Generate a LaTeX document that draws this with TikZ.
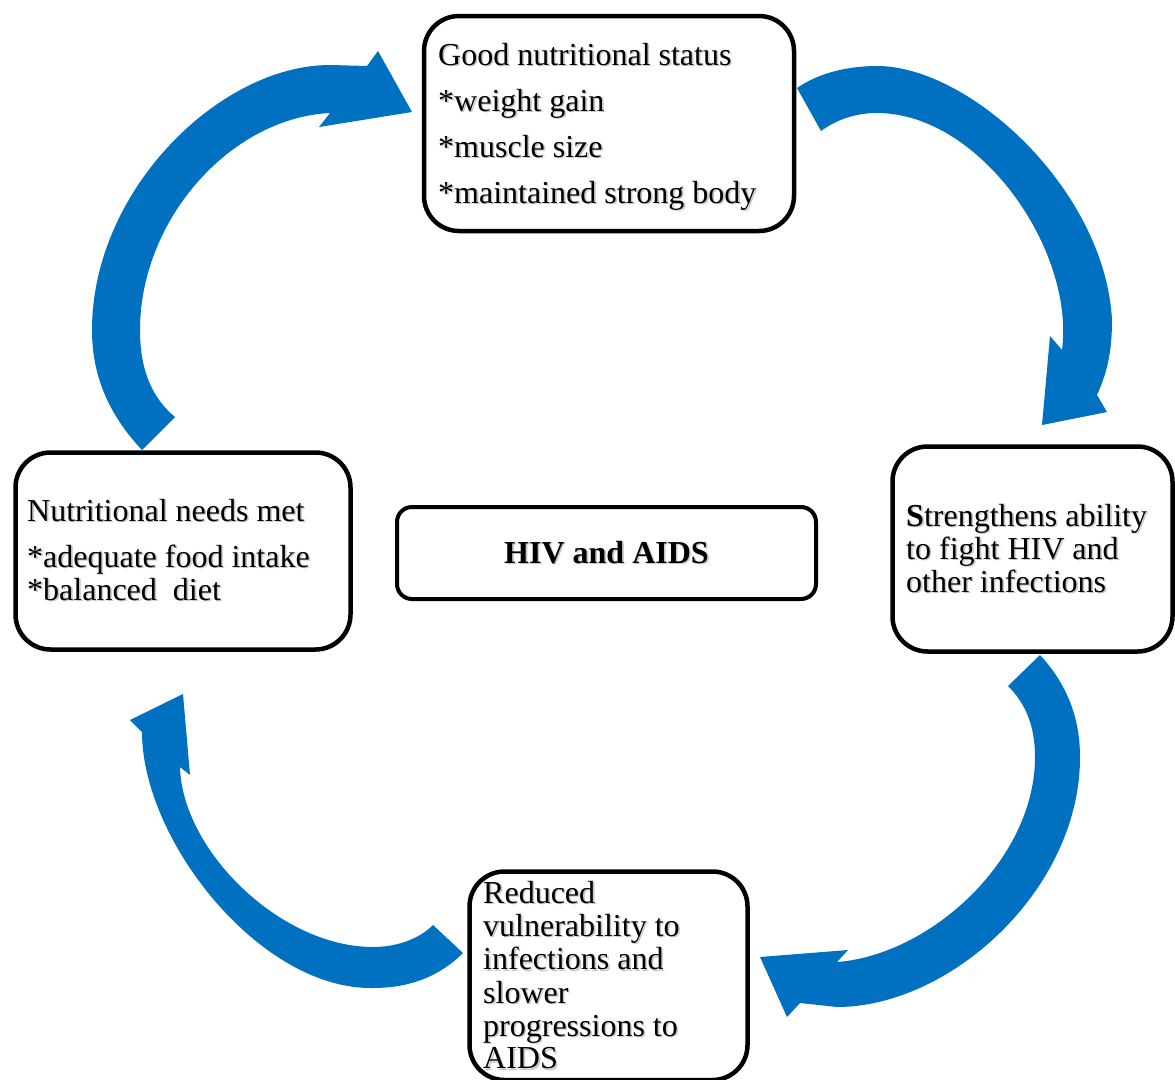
\documentclass[tikz,border=0pt]{standalone}
\usepackage{fontspec}
\setmainfont{Liberation Serif}
\usetikzlibrary{positioning}

\definecolor{cycleblue}{RGB}{0,112,192}
\newcommand{\shd}[1]{\makebox[0pt][l]{\hspace{1.6pt}\raisebox{-1.6pt}{\textcolor{black!22}{#1}}}#1}

\begin{document}
\begin{tikzpicture}[x=1pt, y=-1pt,
    box/.style = {draw, line width=4.5pt, rounded corners=35pt, fill=white, inner sep=0pt},
    txt/.style = {anchor=base west, inner sep=0pt, font=\fontsize{32}{33}\selectfont}]
    \useasboundingbox (0,0) rectangle (1175,1079);

    % curved block arrows
    \fill[cycleblue] (142,450) .. controls (112,418) and (92,380) .. (92,330)
        .. controls (92,190) and (220,65) .. (330,65) -- (367,66) -- (378,51) -- (412,112) -- (319,127) -- (330,113)
        .. controls (230,118) and (140,220) .. (140,330)
        .. controls (140,370) and (152,398) .. (175,417) -- cycle;
    \fill[cycleblue] (797,88) .. controls (820,72) and (850,66) .. (877,66)
        .. controls (970,66) and (1105,190) .. (1112,320)
        .. controls (1112,355) and (1106,375) .. (1097,395) -- (1107,412) -- (1042,425) -- (1050,336) -- (1062,350)
        .. controls (1075,250) and (980,113) .. (877,113)
        .. controls (855,113) and (836,120) .. (821,131) -- cycle;
    \fill[cycleblue] (1040,655) .. controls (1065,682) and (1080,715) .. (1080,757)
        .. controls (1080,890) and (950,1007) .. (837,1007) -- (800,1003) -- (787,1017) -- (760,957) -- (848,950) -- (837,962)
        .. controls (930,955) and (1035,860) .. (1035,757)
        .. controls (1035,725) and (1025,703) .. (1008,686) -- cycle;
    \fill[cycleblue] (463,953) .. controls (440,976) and (410,988) .. (373,988)
        .. controls (260,990) and (142,840) .. (142,732) -- (130,720) -- (183,694) -- (190,775) -- (180,767)
        .. controls (182,850) and (280,947) .. (373,947)
        .. controls (395,947) and (418,940) .. (433,925) -- cycle;

    % boxes
    \node[box, minimum width=370pt, minimum height=215pt] (good) at (609,123.5) {};
    \node[box, minimum width=335pt, minimum height=197pt] (needs) at (183,551) {};
    \node[box, minimum width=280pt, minimum height=205pt] (strength) at (1032.5,549) {};
    \node[box, minimum width=278pt, minimum height=208.5pt] (reduced) at (608.5,975.75) {};
    \node[box, line width=4pt, rounded corners=15pt, minimum width=419pt, minimum height=92pt] (hiv) at (606.5,553) {};

    % texts
    \node[txt] (good1) at (438,65) {\shd{Good nutritional status}};
    \node[txt] (good2) at (438,111) {\shd{*weight gain}};
    \node[txt] (good3) at (438,157) {\shd{*muscle size}};
    \node[txt] (good4) at (438,203) {\shd{*maintained strong body}};

    \node[txt] (needs1) at (27,521) {\shd{Nutritional needs met}};
    \node[txt] (needs2) at (27,567) {\shd{*adequate food intake}};
    \node[txt] (needs3) at (27,600) {\shd{*balanced~ diet}};

    \node[txt, anchor=base] (hivtext) at (606.5,563) {\shd{\bfseries HIV and AIDS}};

    \node[txt] (strength1) at (906,526) {\shd{{\bfseries S}trengthens ability}};
    \node[txt] (strength2) at (906,559) {\shd{to fight HIV and}};
    \node[txt] (strength3) at (906,592) {\shd{other infections}};

    \node[txt] (reduced1) at (483,903) {\shd{Reduced}};
    \node[txt] (reduced2) at (483,936) {\shd{vulnerability to}};
    \node[txt] (reduced3) at (483,969.5) {\shd{infections and}};
    \node[txt] (reduced4) at (483,1003) {\shd{slower}};
    \node[txt] (reduced5) at (483,1036) {\shd{progressions to}};
    \node[txt] (reduced6) at (483,1068.5) {\shd{AIDS}};
\end{tikzpicture}
\end{document}
